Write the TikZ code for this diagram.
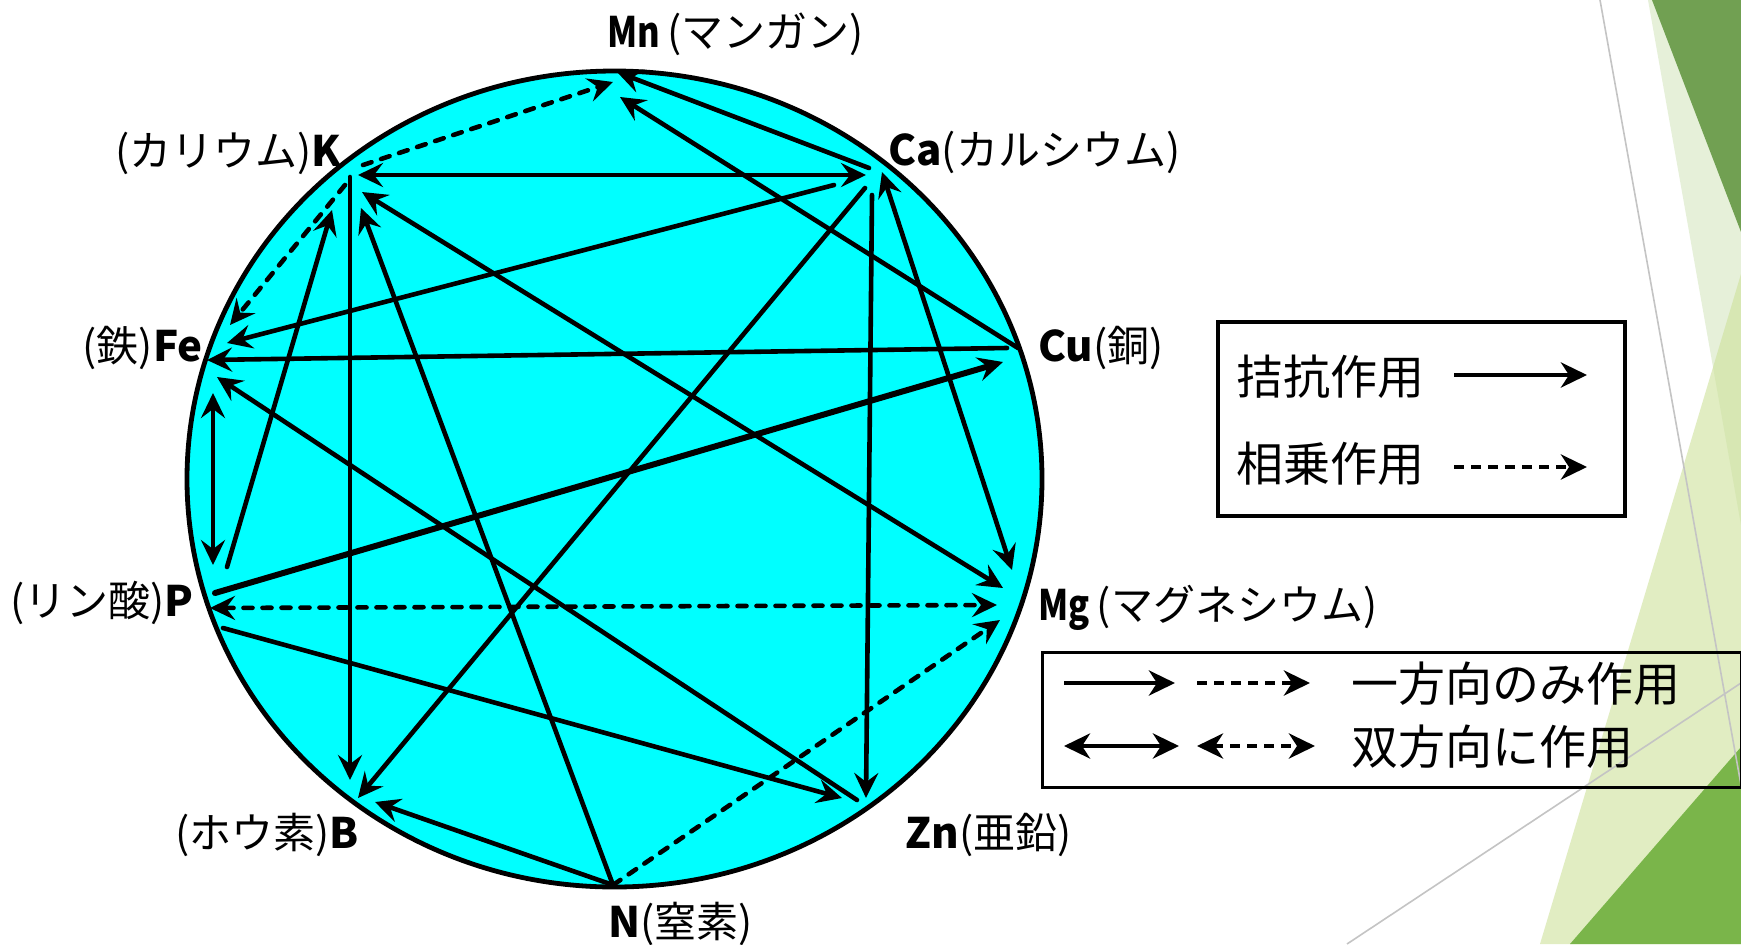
\documentclass[tikz,border=0pt]{standalone}
\usepackage{graphicx}
\usepackage{fontspec}
\setmainfont{Noto Sans CJK JP}
\usetikzlibrary{arrows.meta}
\definecolor{aqua}{HTML}{00FFFF}
\definecolor{bandA}{HTML}{E6F0D9}
\definecolor{triB}{HTML}{CDE19A}
\definecolor{darkC}{HTML}{71A052}
\definecolor{darkD}{HTML}{7AB54A}
\definecolor{grayline}{HTML}{C4C4C4}
\tikzset{
  bigtip/.tip={Stealth[length=13pt,width=12.5pt,inset=4pt]},
  ant/.style={line width=2.3pt, line cap=round},
  syn/.style={line width=2.3pt, line cap=round, dash pattern=on 4.5pt off 5pt},
  lab/.style={font=\fontsize{21}{25}\selectfont, inner sep=0pt},
  legtext/.style={font=\fontsize{23.5}{28}\selectfont, inner sep=0pt, anchor=west},
  legar/.style={line width=2.4pt},
  legdash/.style={line width=2.4pt, dash pattern=on 5pt off 3.5pt},
  bgline/.style={grayline, line width=0.8pt}
}
\begin{document}
\begin{tikzpicture}[x=0.5pt,y=-0.5pt,>={Stealth[length=12.5pt,width=12pt,inset=4.5pt]}]
\useasboundingbox (0,0) rectangle (1741,944);
\fill[white] (0,0) rectangle (1741,944);
% background decoration
\fill[bandA] (1648,0) -- (1741,0) -- (1741,525) -- cycle;
\fill[triB, opacity=0.6] (1540,944) -- (1741,274) -- (1741,944) -- cycle;
\fill[darkC] (1652,0) -- (1741,0) -- (1741,232) -- cycle;
\fill[darkD] (1570,944) -- (1741,747) -- (1741,944) -- cycle;
\draw[bgline] (1600,0) -- (1741,785);
\draw[bgline] (1347,944) -- (1741,683);
% circle
\draw[line width=2.4pt, fill=aqua] (614.5,479) ellipse [x radius=213.75pt, y radius=204pt];
% labels
\node[lab, anchor=base west] (Mnl) at (607,47) {\scalebox{0.82}[1]{\bfseries Mn}\,(マンガン)};
\node[lab, anchor=base east] (Kl) at (342,166) {(カリウム)\textbf{K}};
\node[lab, anchor=base west] (Cal) at (888,165) {\textbf{Ca}(カルシウム)};
\node[lab, anchor=base east] (Fel) at (203,361) {(鉄)\textbf{Fe}};
\node[lab, anchor=base west] (Cul) at (1038,361) {\textbf{Cu}(銅)};
\node[lab, anchor=base east] (Pl) at (194,616) {(リン酸)\textbf{P}};
\node[lab, anchor=base west] (Mgl) at (1038,620) {\scalebox{0.82}[1]{\bfseries Mg}\,(マグネシウム)};
\node[lab, anchor=base east] (Bl) at (359,848) {(ホウ素)\textbf{B}};
\node[lab, anchor=base west] (Znl) at (905,848) {\textbf{Zn}(亜鉛)};
\node[lab, anchor=base west] (Nl) at (608,937) {\textbf{N}(窒素)};
% end points
\coordinate (Mn1) at (617,72);
\coordinate (Mn2) at (613,82);
\coordinate (Mn3) at (620,97);
\coordinate (K1) at (363,165);
\coordinate (K2) at (358,175);
\coordinate (K3) at (350,177);
\coordinate (K4) at (345,185);
\coordinate (K5) at (362,192);
\coordinate (K6) at (361,208);
\coordinate (K7) at (332,210);
\coordinate (Ca1) at (866,175);
\coordinate (Ca2) at (869,168);
\coordinate (Ca3) at (834,185);
\coordinate (Ca4) at (865,188);
\coordinate (Ca5) at (872,195);
\coordinate (Ca6) at (882,172);
\coordinate (Cu1) at (1018,348);
\coordinate (Cu2) at (1007,348);
\coordinate (Cu3) at (1003,362);
\coordinate (Fe1) at (230,325);
\coordinate (Fe2) at (227,343);
\coordinate (Fe3) at (207,360);
\coordinate (Fe4) at (217,377);
\coordinate (Fe5) at (213,393);
\coordinate (P1) at (213,565);
\coordinate (P2) at (227,567);
\coordinate (P3) at (215,593);
\coordinate (P4) at (210,608);
\coordinate (P5) at (223,628);
\coordinate (Mg1) at (1012,570);
\coordinate (Mg2) at (1003,588);
\coordinate (Mg3) at (997,605);
\coordinate (Mg4) at (1000,620);
\coordinate (Zn1) at (842,798);
\coordinate (Zn2) at (857,800);
\coordinate (Zn3) at (866,798);
\coordinate (B1) at (350,780);
\coordinate (B2) at (358,798);
\coordinate (B3) at (375,802);
\coordinate (N0) at (613,885);
% connectors
\draw[syn,->] (K1) -- (Mn2);
\draw[syn,->] (K4) -- (Fe1);
\draw[ant,<->] (K2) -- (Ca1);
\draw[ant,->] (Ca2) -- (Mn1);
\draw[ant,->] (Cu1) -- (Mn3);
\draw[ant,->] (Ca3) -- (Fe2);
\draw[ant,->] (Cu2) -- (Fe3);
\draw[ant,<->] (K5) -- (Mg2);
\draw[ant,->] (Zn2) -- (Fe4);
\draw[ant,->] (Ca5) -- (Zn3);
\draw[ant,<->] (Ca6) -- (Mg1);
\draw[ant,->] (Ca4) -- (B2);
\draw[ant,->] (K3) -- (B1);
\draw[ant,->] (P2) -- (K7);
\draw[ant,<->] (Fe5) -- (P1);
\draw[ant,->,line width=3pt] (P3) -- (Cu3);
\draw[syn,<->] (P4) -- (Mg3);
\draw[ant,->] (N0) -- (K6);
\draw[ant,->] (N0) -- (B3);
\draw[syn,->] (N0) -- (Mg4);
\draw[ant,->] (P5) -- (Zn1);
% legend 1
\node[draw, line width=2pt, inner sep=0pt, minimum width=203.5pt, minimum height=97pt, anchor=north west] (leg1) at (1216,320) {};
\node[legtext] (t1) at (1236,377) {拮抗作用};
\node[legtext] (t2) at (1236,464) {相乗作用};
\coordinate (a1s) at (1454,375);
\coordinate (a1e) at (1587,375);
\coordinate (a2s) at (1454,467);
\coordinate (a2e) at (1587,467);
\draw[legar,-bigtip] (a1s) -- (a1e);
\draw[legdash,-bigtip] (a2s) -- (a2e);
% legend 2
\node[draw, line width=1.5pt, inner sep=0pt, minimum width=349.5pt, minimum height=67.5pt, anchor=north west] (leg2) at (1041,651) {};
\node[legtext] (t3) at (1351,684) {一方向のみ作用};
\node[legtext] (t4) at (1351,747) {双方向に作用};
\coordinate (b1s) at (1064,683);
\coordinate (b1e) at (1175,683);
\coordinate (b2s) at (1197,683);
\coordinate (b2e) at (1310,683);
\coordinate (b3s) at (1064,746);
\coordinate (b3e) at (1179,746);
\coordinate (b4s) at (1197,746);
\coordinate (b4e) at (1315,746);
\draw[legar,-bigtip] (b1s) -- (b1e);
\draw[legdash,-bigtip] (b2s) -- (b2e);
\draw[legar,bigtip-bigtip] (b3s) -- (b3e);
\draw[legdash,bigtip-bigtip] (b4s) -- (b4e);
\end{tikzpicture}
\end{document}
